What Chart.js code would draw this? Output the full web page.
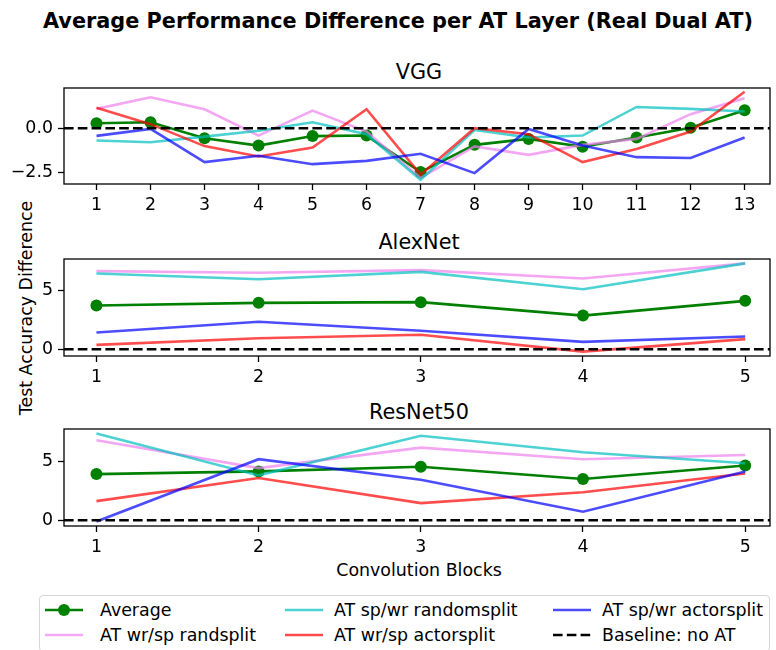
<!DOCTYPE html>
<html><head><meta charset="utf-8">
<script src="https://cdn.jsdelivr.net/npm/chart.js@4.4.0/dist/chart.umd.min.js"></script>
<style>
body{margin:0;background:#fff;width:776px;height:650px;overflow:hidden;position:relative;font-family:"DejaVu Sans",sans-serif;color:#000}
.abs{position:absolute;white-space:nowrap}
canvas{position:absolute;left:0}
#title{left:0;width:796px;top:7px;text-align:center;font-weight:bold;font-size:20.8px;line-height:28px}
.ptitle{left:64px;width:710px;text-align:center;font-size:20.8px;line-height:26px}
#ylab{left:26px;top:308px;font-size:17.4px;line-height:22px;transform:translate(-50%,-50%) rotate(-90deg)}
#xlab{left:64px;width:710px;top:559px;text-align:center;font-size:17.4px;line-height:22px}
#legend{left:39px;top:595px;width:731px;height:57px;border:1px solid #d6d6d6;border-radius:4px;box-sizing:border-box}
.li{position:absolute;height:22px;line-height:22px;font-size:17.4px;white-space:nowrap}
.li svg{position:absolute;top:5px;left:0}
.li span{position:absolute;top:0}
</style>
</head><body>
<div id="title" class="abs">Average Performance Difference per AT Layer (Real Dual AT)</div>
<div class="abs ptitle" style="top:59px">VGG</div>
<div class="abs ptitle" style="top:229px">AlexNet</div>
<div class="abs ptitle" style="top:399px">ResNet50</div>
<div id="ylab" class="abs">Test Accuracy Difference</div>
<div id="xlab" class="abs">Convolution Blocks</div>
<canvas id="c1" width="776" height="136" style="top:78px"></canvas>
<canvas id="c2" width="776" height="137" style="top:249px"></canvas>
<canvas id="c3" width="776" height="137" style="top:419px"></canvas>
<div id="legend" class="abs"></div>
<script>
// ---- data ----
const vggLayers = [1,2,3,4,5,6,7,8,9,10,11,12,13];
const vggAverage   = [0.28, 0.34, -0.57, -0.99, -0.45, -0.42, -2.50, -0.95, -0.61, -1.06, -0.53, 0.03, 1.02];
const vggWrSpRand  = [1.10, 1.76, 1.08, -0.42, 1.00, -0.19, -2.84, -1.04, -1.52, -0.95, -0.61, 0.80, 1.70];
const vggSpWrRand  = [-0.70, -0.80, -0.48, -0.15, 0.34, -0.34, -2.94, -0.10, -0.53, -0.42, 1.21, 1.10, 0.95];
const vggWrSpActor = [1.17, 0.23, -1.02, -1.61, -1.10, 1.08, -2.65, 0.00, -0.34, -1.93, -1.18, -0.19, 2.08];
const vggSpWrActor = [-0.44, -0.04, -1.93, -1.57, -2.05, -1.86, -1.46, -2.56, -0.04, -0.99, -1.65, -1.70, -0.53];

const blocks = [1,2,3,4,5];
const alexAverage   = [3.71, 3.94, 4.00, 2.86, 4.11];
const alexWrSpRand  = [6.63, 6.49, 6.72, 6.00, 7.29];
const alexSpWrRand  = [6.43, 5.94, 6.57, 5.09, 7.29];
const alexWrSpActor = [0.37, 0.94, 1.23, -0.20, 0.86];
const alexSpWrActor = [1.43, 2.34, 1.57, 0.63, 1.08];

const resAverage   = [3.93, 4.16, 4.55, 3.51, 4.66];
const resWrSpRand  = [6.82, 4.44, 6.18, 5.20, 5.56];
const resSpWrRand  = [7.39, 3.82, 7.19, 5.79, 4.86];
const resWrSpActor = [1.63, 3.60, 1.46, 2.39, 3.98];
const resSpWrActor = [-0.11, 5.20, 3.45, 0.73, 4.16];

const vggYTicks = [-2.5, 0];
const cnnYTicks = [0, 5];
const baselineValue = 0;

// ---- styles ----
const seriesNames = ['Average','AT wr/sp randsplit','AT sp/wr randomsplit','AT wr/sp actorsplit','AT sp/wr actorsplit','Baseline: no AT'];
const colors = ['#008000','rgba(238,130,238,0.7)','rgba(0,191,191,0.7)','rgba(255,0,0,0.7)','rgba(0,0,255,0.7)','#000'];
const FONT = {family:'DejaVu Sans', size:17.4};
const LW = 2.6;
const DASH = [9.6, 4.2];

function pts(xs, ys){ return xs.map((x,i)=>({x:x, y:ys[i]})); }

function datasets(xs, avg, wrRand, spRand, wrActor, spActor, xmin, xmax){
  const line = (i, d, order) => ({label:seriesNames[i], data:pts(xs,d), borderColor:colors[i], backgroundColor:colors[i],
    borderWidth:LW, pointRadius:0, tension:0, order:order});
  const a = line(0, avg, 5);
  a.pointRadius = 6; a.pointBorderWidth = 0; a.pointBackgroundColor = colors[0];
  return [a, line(1, wrRand, 4), line(2, spRand, 3), line(3, wrActor, 2), line(4, spActor, 1),
    {label:seriesNames[5], data:[{x:xmin,y:baselineValue},{x:xmax,y:baselineValue}], borderColor:'#000',
     borderWidth:LW, borderDash:DASH, pointRadius:0, order:0}];
}

const frame = {id:'frame', afterDraw(chart){
  const {ctx, chartArea:a} = chart;
  ctx.save(); ctx.strokeStyle='#000'; ctx.lineWidth=1.3;
  ctx.strokeRect(a.left, a.top, a.right-a.left, a.bottom-a.top); ctx.restore();
}};

function noPad(s){ s.paddingTop=0; s.paddingBottom=0; s.paddingLeft=0; s.paddingRight=0; }

function make(id, xs, sets, xmin, xmax, ymin, ymax, yticks, fmt){
  new Chart(document.getElementById(id), {
    type:'line',
    data:{datasets:sets},
    plugins:[frame],
    options:{
      responsive:false, animation:false, devicePixelRatio:1,
      layout:{padding:{top:10,right:2,left:0,bottom:0}},
      plugins:{legend:{display:false}, tooltip:{enabled:false}},
      scales:{
        x:{type:'linear', min:xmin, max:xmax,
          afterBuildTicks:s=>{s.ticks = xs.map(v=>({value:v}));},
          afterFit:s=>{s.height=30; noPad(s);},
          grid:{display:true, drawOnChartArea:false, drawTicks:true, tickLength:6, tickColor:'#000', tickWidth:1.3},
          border:{display:false},
          ticks:{color:'#000', font:FONT, padding:5, maxRotation:0, autoSkip:false, callback:v=>String(v)}},
        y:{type:'linear', min:ymin, max:ymax,
          afterBuildTicks:s=>{s.ticks = yticks.map(v=>({value:v}));},
          afterFit:s=>{s.width=64; noPad(s);},
          grid:{display:true, drawOnChartArea:false, drawTicks:true, tickLength:6, tickColor:'#000', tickWidth:1.3},
          border:{display:false},
          ticks:{color:'#000', font:FONT, padding:5, callback:fmt}}
      }
    }
  });
}
const fmt1 = v => v.toFixed(1).replace('-','\u2212');
const fmt0 = v => String(v).replace('-','\u2212');

make('c1', vggLayers, datasets(vggLayers, vggAverage, vggWrSpRand, vggSpWrRand, vggWrSpActor, vggSpWrActor, 0.398, 13.47), 0.398, 13.47, -3.18, 2.29, vggYTicks, fmt1);
make('c2', blocks, datasets(blocks, alexAverage, alexWrSpRand, alexSpWrRand, alexWrSpActor, alexSpWrActor, 0.8, 5.153), 0.8, 5.153, -0.57, 7.66, cnnYTicks, fmt0);
make('c3', blocks, datasets(blocks, resAverage, resWrSpRand, resSpWrRand, resWrSpActor, resSpWrActor, 0.8, 5.153), 0.8, 5.153, -0.49, 7.77, cnnYTicks, fmt0);

// ---- legend (HTML) ----
const legendPos = [[4,3,56],[4,28,56],[244,3,50],[244,28,50],[512,3,50],[512,28,50]]; // layout only
const lg = document.getElementById('legend');
seriesNames.forEach((name,i)=>{
  const [lx, ly, tx] = legendPos[i];
  const d = document.createElement('div'); d.className='li'; d.style.left=lx+'px'; d.style.top=ly+'px';
  let svg = '<svg width="40" height="12">';
  if(i===5) svg += '<line x1="1" y1="6" x2="39" y2="6" stroke="#000" stroke-width="'+LW+'" stroke-dasharray="'+DASH.join(' ')+'"/>';
  else svg += '<line x1="1" y1="6" x2="39" y2="6" stroke="'+colors[i]+'" stroke-width="'+LW+'"/>';
  if(i===0) svg += '<circle cx="20" cy="6" r="6" fill="'+colors[0]+'"/>';
  svg += '</svg>';
  d.innerHTML = svg + '<span style="left:'+tx+'px">'+name+'</span>';
  lg.appendChild(d);
});
</script>
</body></html>
